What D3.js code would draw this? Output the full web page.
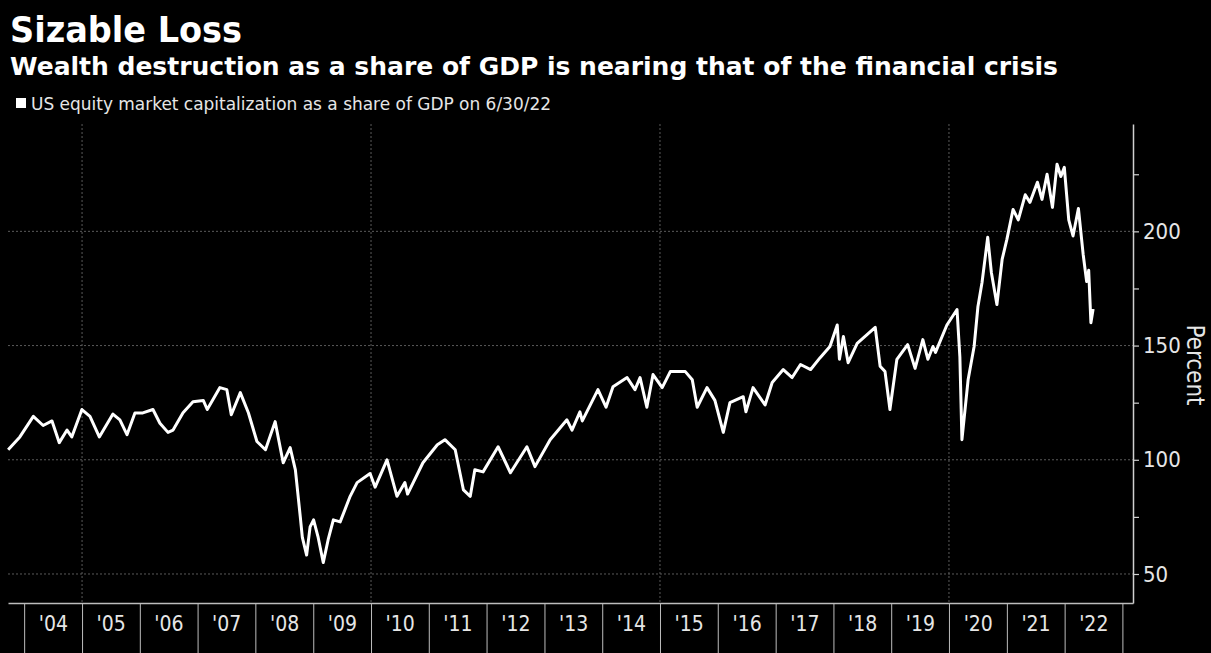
<!DOCTYPE html>
<html>
<head>
<meta charset="utf-8">
<script src="https://cdn.jsdelivr.net/npm/d3@7"></script>
<style>
  html, body { margin: 0; padding: 0; background: #000; }
  svg { display: block; }
  text { font-family: "DejaVu Sans Condensed", "DejaVu Sans", sans-serif; fill: #e6e6e6; }
</style>
</head>
<body>
<div id="chart"></div>
<script>
// values (US equity market cap as % of GDP)
const dates = [
  '2003-09-22', '2003-12-05', '2004-02-28', '2004-04-30', '2004-06-25', '2004-08-10', '2004-09-28', '2004-10-28',
  '2004-12-31', '2005-02-20', '2005-04-20', '2005-07-15', '2005-08-28', '2005-10-12', '2005-12-01', '2006-01-20',
  '2006-03-25', '2006-05-08', '2006-06-28', '2006-07-30', '2006-10-01', '2006-12-03', '2007-02-06', '2007-03-03',
  '2007-05-22', '2007-07-05', '2007-08-02', '2007-09-28', '2007-11-18', '2008-01-11', '2008-03-05', '2008-05-05',
  '2008-06-25', '2008-08-08', '2008-09-10', '2008-10-11', '2008-10-24', '2008-11-20', '2008-12-12', '2009-01-03',
  '2009-02-01', '2009-03-05', '2009-04-05', '2009-05-08', '2009-06-20', '2009-08-22', '2009-10-05', '2009-12-26',
  '2010-01-27', '2010-04-12', '2010-06-14', '2010-08-03', '2010-08-20', '2010-11-25', '2011-02-24', '2011-04-13',
  '2011-06-17', '2011-08-08', '2011-09-20', '2011-10-19', '2011-12-10', '2012-03-14', '2012-05-31', '2012-09-12',
  '2012-11-02', '2013-02-06', '2013-05-23', '2013-06-24', '2013-08-13', '2013-08-28', '2013-12-05', '2014-01-25',
  '2014-03-10', '2014-06-07', '2014-07-27', '2014-08-28', '2014-10-10', '2014-11-18', '2015-01-15', '2015-03-07',
  '2015-06-10', '2015-07-24', '2015-08-24', '2015-10-25', '2015-12-14', '2016-02-05', '2016-03-18', '2016-06-10',
  '2016-06-27', '2016-08-11', '2016-10-26', '2016-12-10', '2017-02-18', '2017-04-15', '2017-06-07', '2017-08-10',
  '2017-10-09', '2017-12-10', '2018-01-25', '2018-02-08', '2018-03-05', '2018-04-04', '2018-05-31', '2018-09-22',
  '2018-10-23', '2018-11-23', '2018-12-24', '2019-02-06', '2019-04-15', '2019-06-01', '2019-07-20', '2019-08-21',
  '2019-09-22', '2019-10-08', '2019-12-19', '2020-02-21', '2020-03-10', '2020-03-23', '2020-05-01', '2020-06-08',
  '2020-07-02', '2020-07-28', '2020-09-02', '2020-09-25', '2020-10-30', '2020-12-02', '2021-01-01', '2021-02-09',
  '2021-03-14', '2021-04-27', '2021-05-27', '2021-07-13', '2021-08-11', '2021-09-12', '2021-10-16', '2021-11-14',
  '2021-12-08', '2021-12-30', '2022-01-27', '2022-02-23', '2022-03-29', '2022-04-28', '2022-05-20', '2022-06-02',
  '2022-06-16', '2022-06-30'
]
const capToGdp = [
  104.4, 110, 119, 115, 117, 107.5, 113, 110,
  122, 119, 110, 120, 117.5, 111, 120.5, 120.5,
  122, 116, 112, 113, 120.6, 125.4, 126, 122,
  131.6, 130.7, 119.7, 129.4, 120.6, 108, 104.4, 116.7,
  98.7, 105.3, 95.6, 75, 66, 58.3, 70.6, 73.7,
  66, 55, 65, 73.7, 72.8, 84, 90, 94,
  88, 100, 84, 90, 85, 98.7, 106.6, 108.8,
  104.4, 86.8, 84, 95.6, 94.7, 105.7, 94.3, 105.7,
  97, 108.8, 117.5, 113, 121, 117, 130.7, 123,
  132, 136, 130.7, 136, 123, 137.3, 131.6, 138.6,
  138.6, 135, 123, 131.6, 126, 112, 125, 127.6,
  121, 131.6, 124, 133.8, 139.5, 136, 141.7, 139.5,
  144.7, 149.6, 159, 144, 154, 142.5, 151, 158,
  141, 138.6, 122, 144, 150.4, 140, 152.6, 144,
  149.6, 147, 159, 165.8, 145, 108.8, 135, 149.6,
  167, 177.6, 197.4, 182, 168, 187.7, 196.5, 209.6,
  205, 216, 212.7, 221.5, 214, 225, 210.5, 229.4,
  224, 228, 205, 198, 210, 190, 178, 183,
  160, 166
]

const yTicks = [50, 75, 100, 125, 150, 175, 200, 225]
const yGrid = [50, 100, 150, 200]
const gridYears = [2005, 2010, 2015, 2020]
const labelYears = d3.range(2004, 2023)

const title = 'Sizable Loss'
const subtitle = 'Wealth destruction as a share of GDP is nearing that of the financial crisis'
const legendLabel = 'US equity market capitalization as a share of GDP on 6/30/22'

const WIDTH = 1211, HEIGHT = 653
const MARGIN = { top: 124, right: 78, bottom: 50, left: 8 }
const W = WIDTH - MARGIN.left - MARGIN.right
const H = HEIGHT - MARGIN.top - MARGIN.bottom

const parse = d3.utcParse('%Y-%m-%d')
const data = dates.map((d, i) => ({ date: parse(d), value: capToGdp[i] }))

const svg = d3.select('#chart').append('svg').attr('width', WIDTH).attr('height', HEIGHT)
svg.append('rect').attr('width', WIDTH).attr('height', HEIGHT).attr('fill', '#000')

// ── header ──────────────────────────────────────────────────
svg.append('text').attr('x', 10).attr('y', 42)
  .attr('textLength', 232).attr('lengthAdjust', 'spacingAndGlyphs')
  .style('font-family', '"DejaVu Sans", sans-serif')
  .style('font-size', '36px').style('font-weight', 'bold').style('fill', '#fff')
  .text(title)
svg.append('text').attr('x', 10).attr('y', 75)
  .attr('textLength', 1048).attr('lengthAdjust', 'spacingAndGlyphs')
  .style('font-family', '"DejaVu Sans", sans-serif')
  .style('font-size', '24px').style('font-weight', 'bold').style('fill', '#fff')
  .text(subtitle)
svg.append('rect').attr('x', 16).attr('y', 98).attr('width', 10).attr('height', 10).attr('fill', '#fff')
svg.append('text').attr('x', 31).attr('y', 110)
  .attr('textLength', 520).attr('lengthAdjust', 'spacingAndGlyphs')
  .style('font-size', '17px')
  .text(legendLabel)

const g = svg.append('g').attr('transform', `translate(${MARGIN.left},${MARGIN.top})`)

const x = d3.scaleUtc()
  .domain([parse('2003-09-21'), parse('2023-03-09')])
  .range([0, W])
const y = d3.scaleLinear().domain([37.3, 247]).range([H, 0])

// ── grid ────────────────────────────────────────────────────
g.append('g').selectAll('line').data(yGrid).join('line')
  .attr('x1', 0).attr('x2', W).attr('y1', d => y(d)).attr('y2', d => y(d))
  .attr('stroke', '#5a5a5a').attr('stroke-width', 1).attr('stroke-dasharray', '2 2')
g.append('g').selectAll('line').data(gridYears).join('line')
  .attr('x1', d => x(Date.UTC(d, 0, 1))).attr('x2', d => x(Date.UTC(d, 0, 1)))
  .attr('y1', 0).attr('y2', H)
  .attr('stroke', '#5a5a5a').attr('stroke-width', 1).attr('stroke-dasharray', '2 2')

// ── line ────────────────────────────────────────────────────
g.append('path').datum(data)
  .attr('d', d3.line().x(d => x(d.date)).y(d => y(d.value)).curve(d3.curveLinear))
  .attr('fill', 'none').attr('stroke', '#fff').attr('stroke-width', 3)
  .attr('stroke-linejoin', 'round')

// ── right axis ──────────────────────────────────────────────
const yAxis = g.append('g').attr('transform', `translate(${W},0)`)
  .call(d3.axisRight(y).tickValues(yTicks).tickSize(6).tickSizeOuter(0)
    .tickFormat(d => d % 50 === 0 ? d : ''))
yAxis.select('.domain').attr('stroke', '#d0d0d0').attr('stroke-width', 1.5)
yAxis.selectAll('.tick line').attr('stroke', '#d0d0d0').attr('stroke-width', 1.2)
yAxis.selectAll('.tick text').attr('x', 10).style('font-size', '22px').style('fill', '#e6e6e6')
  .style('font-family', '"DejaVu Sans Condensed", "DejaVu Sans", sans-serif')
svg.append('text')
  .attr('transform', `translate(1187,365) rotate(90)`)
  .attr('text-anchor', 'middle')
  .style('font-size', '24px')
  .text('Percent')

// ── bottom axis: year separators + labels ───────────────────
const sepAxis = g.append('g').attr('transform', `translate(0,${H})`)
  .call(d3.axisBottom(x)
    .tickValues(d3.range(2004, 2024).map(yr => new Date(Date.UTC(yr, 0, 1))))
    .tickSize(HEIGHT - MARGIN.top - H).tickSizeOuter(0).tickFormat(''))
sepAxis.select('.domain').attr('stroke', '#bdbdbd').attr('stroke-width', 1.5)
sepAxis.selectAll('.tick line').attr('stroke', '#bdbdbd').attr('stroke-width', 1)

const labAxis = g.append('g').attr('transform', `translate(0,${H})`)
  .call(d3.axisBottom(x)
    .tickValues(labelYears.map(yr => new Date(Date.UTC(yr, 6, 1))))
    .tickSize(0).tickFormat(d3.utcFormat("'%y")))
labAxis.select('.domain').remove()
labAxis.selectAll('.tick text').attr('y', 28).attr('dy', 0)
  .style('font-size', '21px').style('fill', '#e6e6e6')
  .style('font-family', '"DejaVu Sans Condensed", "DejaVu Sans", sans-serif')
</script>
</body>
</html>
